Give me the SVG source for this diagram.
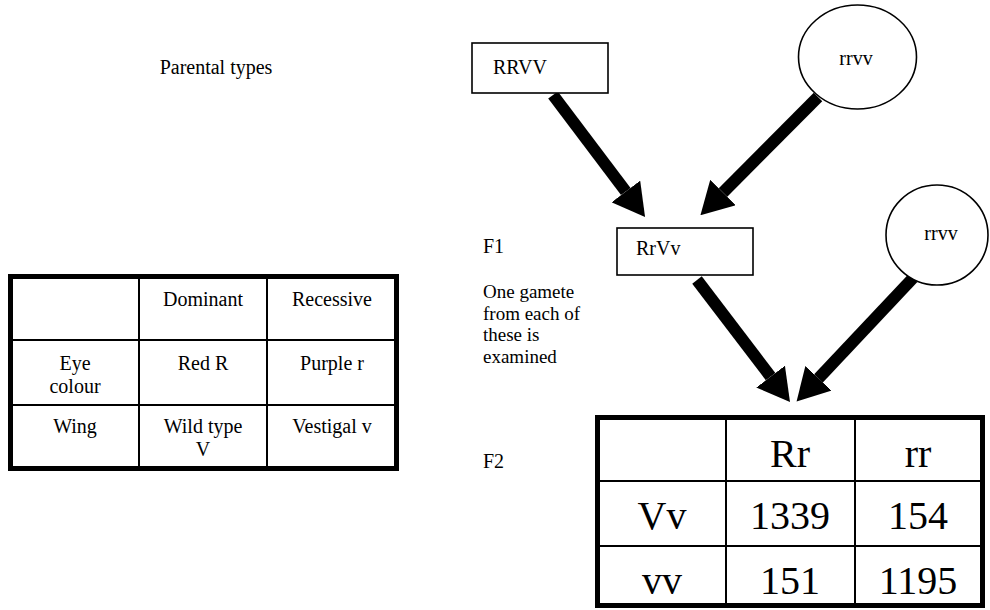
<svg xmlns="http://www.w3.org/2000/svg" width="990" height="610" viewBox="0 0 990 610">
<style>
text{font-family:"Liberation Serif","Times New Roman",serif;fill:#000}
.t{font-size:20px}
.n{font-size:19px}
.c{text-anchor:middle}
.big{font-size:40px;text-anchor:middle}
.box{fill:#fff;stroke:#000;stroke-width:1.6}
.outer{fill:none;stroke:#000;stroke-width:5}
.grid{stroke:#000;stroke-width:2}
.arrow{stroke:#000;stroke-width:12;fill:none;marker-end:url(#ah)}
</style>
<defs>
<marker id="ah" markerWidth="32" markerHeight="36" refX="0" refY="18" orient="auto" markerUnits="userSpaceOnUse" viewBox="0 0 32 36">
<path d="M0,0 L32,18 L0,36 z" fill="#000"/>
</marker>
</defs>
<rect width="990" height="610" fill="#fff"/>

<text class="t" x="216" y="74" text-anchor="middle">Parental types</text>

<g id="traits-table">
<rect class="outer" x="10.5" y="276.5" width="386" height="192"/>
<line class="grid" x1="139" y1="277" x2="139" y2="468"/>
<line class="grid" x1="267" y1="277" x2="267" y2="468"/>
<line class="grid" x1="11" y1="340" x2="396" y2="340"/>
<line class="grid" x1="11" y1="405" x2="396" y2="405"/>
<text class="t c" x="203" y="306">Dominant</text>
<text class="t c" x="332" y="306">Recessive</text>
<text class="t c" x="75" y="370">Eye</text>
<text class="t c" x="75" y="393">colour</text>
<text class="t c" x="203" y="370">Red R</text>
<text class="t c" x="332" y="370">Purple r</text>
<text class="t c" x="75" y="433">Wing</text>
<text class="t c" x="203" y="433">Wild type</text>
<text class="t c" x="203" y="456">V</text>
<text class="t c" x="332" y="433">Vestigal v</text>
</g>

<g id="connectors">
<line class="arrow" x1="553" y1="95" x2="625.8" y2="191.5"/>
<line class="arrow" x1="818" y1="97" x2="723" y2="192.5"/>
<line class="arrow" x1="697" y1="280" x2="770.6" y2="376.6"/>
<line class="arrow" x1="913" y1="278" x2="818.5" y2="378.3"/>
</g>

<g id="parent-RRVV">
<rect class="box" x="472" y="43" width="136" height="50"/>
<text class="t" x="493" y="74">RRVV</text>
</g>

<g id="parent-rrvv">
<ellipse class="box" cx="857.5" cy="57" rx="59" ry="52"/>
<text class="t c" x="856" y="65">rrvv</text>
</g>

<g id="f1-label">
<text class="t" x="483" y="253">F1</text>
</g>

<g id="f1-RrVv">
<rect class="box" x="617" y="228" width="136" height="47"/>
<text class="t" x="636" y="255">RrVv</text>
</g>

<g id="testcross-rrvv">
<ellipse class="box" cx="937" cy="235" rx="51" ry="50"/>
<text class="t c" x="941" y="240">rrvv</text>
</g>

<g id="gamete-note">
<text class="n" x="483" y="298">One gamete</text>
<text class="n" x="483" y="319.5">from each of</text>
<text class="n" x="483" y="341">these is</text>
<text class="n" x="483" y="362.5">examined</text>
</g>

<g id="f2-label">
<text class="t" x="483" y="468">F2</text>
</g>

<g id="f2-table">
<rect class="outer" x="597.5" y="417.5" width="385" height="188"/>
<line class="grid" x1="726" y1="418" x2="726" y2="605"/>
<line class="grid" x1="855" y1="418" x2="855" y2="605"/>
<line class="grid" x1="598" y1="481" x2="982" y2="481"/>
<line class="grid" x1="598" y1="546" x2="982" y2="546"/>
<text class="big" x="790" y="467">Rr</text>
<text class="big" x="918" y="467">rr</text>
<text class="big" x="662" y="529">Vv</text>
<text class="big" x="790" y="529">1339</text>
<text class="big" x="918" y="529">154</text>
<text class="big" x="662" y="594">vv</text>
<text class="big" x="790" y="594">151</text>
<text class="big" x="918" y="594">1195</text>
</g>
</svg>
